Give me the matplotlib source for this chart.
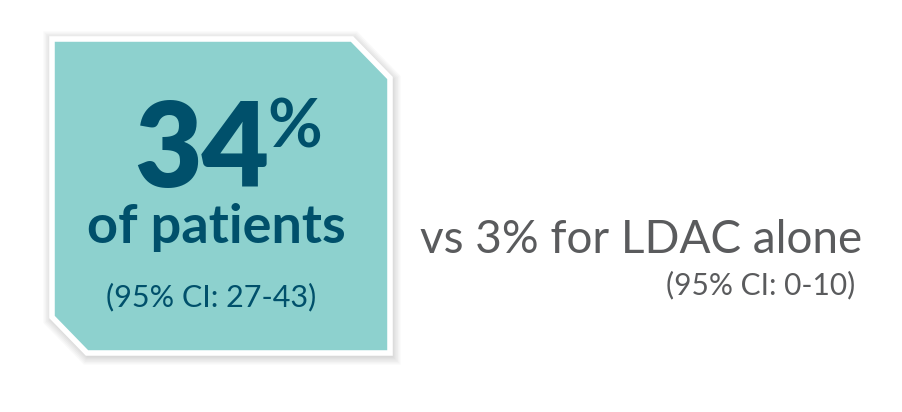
import matplotlib
matplotlib.use('Agg')
import matplotlib.pyplot as plt
from matplotlib.patches import Polygon
import numpy as np

# values on the card
main_value = '34'
main_label = 'of patients'
main_ci = '(95% CI: 27-43)'
cmp_text = 'vs 3% for LDAC alone'
cmp_ci = '(95% CI: 0-10)'

teal = '#8dd1ce'
dark = '#00506b'
grey = '#5a5b5d'

fig = plt.figure(figsize=(9.02, 4.12), dpi=100)
ax = fig.add_axes([0, 0, 1, 1])
ax.set_xlim(0, 902)
ax.set_ylim(412, 0)
ax.axis('off')

card = np.array([[52, 39], [352, 39], [390, 78], [390, 353], [87, 353], [52, 317]])

# soft shadow
for w in np.linspace(14, 2, 7):
    ax.add_patch(Polygon(card + [1, 2], closed=True, fc='none', ec='#000000',
                         lw=w, alpha=0.025, joinstyle='miter'))
ax.add_patch(Polygon(card, closed=True, fc=teal, ec='white', lw=4, joinstyle='miter'))

ax.text(202, 187, main_value, fontsize=84, fontfamily='Lato', fontweight='heavy',
        color=dark, ha='center', va='baseline')
ax.text(267, 148, '%', fontsize=48, fontfamily='Lato', fontweight='bold',
        color=dark, ha='left', va='baseline')
ax.text(216, 243, main_label, fontsize=39, fontfamily='Lato', fontweight='bold',
        color=dark, ha='center', va='baseline')
ax.text(211, 306, main_ci, fontsize=22, fontfamily='Lato', fontweight='normal',
        color=dark, ha='center', va='baseline')

ax.text(862, 253, cmp_text, fontsize=33, fontfamily='Lato', fontweight='normal',
        color=grey, ha='right', va='baseline')
ax.text(855, 294, cmp_ci, fontsize=21.5, fontfamily='Lato', fontweight='normal',
        color=grey, ha='right', va='baseline')

fig.savefig('out.png', dpi=100, facecolor='white')
